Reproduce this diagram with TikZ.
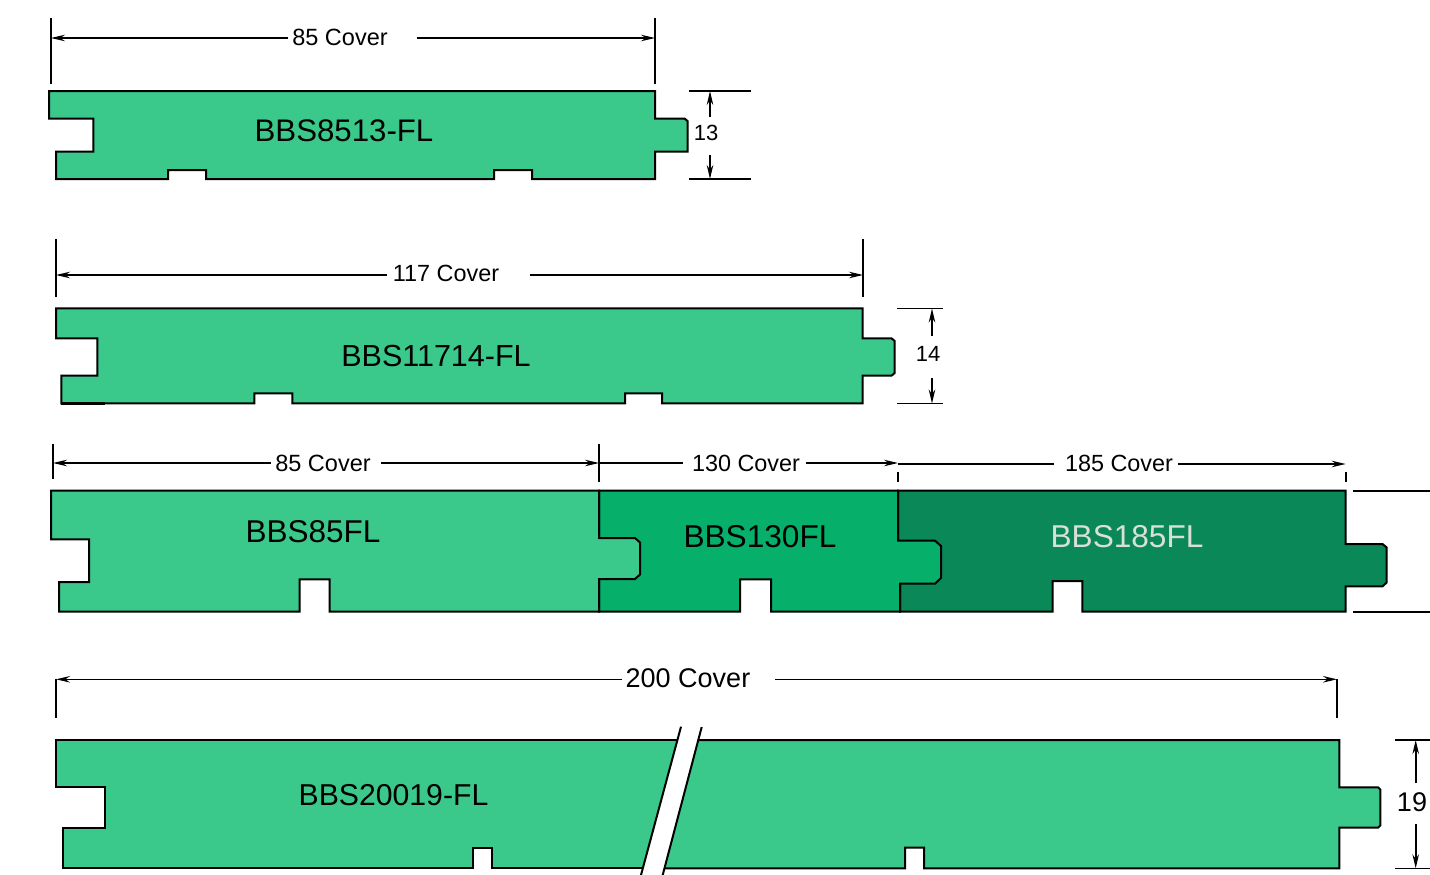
\documentclass[tikz,border=0pt]{standalone}
\usepackage{fontspec}
\setmainfont{Liberation Sans}
\usetikzlibrary{arrows.meta}
\definecolor{lightg}{HTML}{3BC98B}
\definecolor{midg}{HTML}{06B06A}
\definecolor{darkg}{HTML}{0B8858}
\newcommand{\fs}[1]{\fontsize{#1}{#1}\selectfont}
\tikzset{
  board/.style={draw=black,line width=2pt,line join=miter},
  dimline/.style={draw=black,line width=1.6pt,-{Stealth[length=14pt,width=6.5pt]}},
  extline/.style={draw=black,line width=1.6pt},
  txt/.style={inner sep=0pt,outer sep=0pt,text=black,anchor=center},
}
\begin{document}
\begin{tikzpicture}[x=1pt,y=-1pt]
\useasboundingbox (0,0) rectangle (1430,875);
% Board 1
\draw[board,fill=lightg] (49,91) -- (655,91) -- (655,118.5) -- (684.5,118.5) -- (687.5,121) -- (687.5,151.5) -- (655,151.5) -- (655,179) -- (532,179) -- (532,170) -- (494,170) -- (494,179) -- (206,179) -- (206,170) -- (168,170) -- (168,179) -- (56,179) -- (56,151.5) -- (93.3,151.5) -- (93.3,118.5) -- (49,118.5) -- cycle;
\node[txt] (n1) at (344,131) {\fs{31.2}BBS8513-FL};
\coordinate (e1a) at (51,18); \coordinate (e1b) at (51,84);
\coordinate (e1c) at (655,18); \coordinate (e1d) at (655,84);
\draw[extline] (e1a) -- (e1b);
\draw[extline] (e1c) -- (e1d);
\node[txt] (d1) at (340,37.5) {\fs{23.5}85 Cover};
\coordinate (a1l) at (51,38); \coordinate (a1r) at (655,38);
\coordinate (b1l) at (288,38); \coordinate (b1r) at (417,38);
\draw[dimline] (b1l) -- (a1l);
\draw[dimline] (b1r) -- (a1r);
\coordinate (h1a) at (689,91); \coordinate (h1b) at (750.5,91);
\coordinate (h1c) at (689,179); \coordinate (h1d) at (750.5,179);
\draw[extline] (h1a) -- (h1b);
\draw[extline] (h1c) -- (h1d);
\coordinate (v1a) at (710,91); \coordinate (v1b) at (710,116.7);
\coordinate (v1c) at (710,179); \coordinate (v1d) at (710,155);
\draw[dimline] (v1b) -- (v1a);
\draw[dimline] (v1d) -- (v1c);
\node[txt] (d13) at (706,133) {\fs{22}13};
% Board 2
\draw[board,fill=lightg] (56,308.3) -- (862.7,308.3) -- (862.7,338.3) -- (891.5,338.3) -- (894.7,341) -- (894.7,373) -- (891.5,375.7) -- (862.7,375.7) -- (862.7,403.3) -- (662,403.3) -- (662,393.3) -- (625,393.3) -- (625,403.3) -- (292.3,403.3) -- (292.3,393.3) -- (254.3,393.3) -- (254.3,403.3) -- (61.3,403.3) -- (61.3,375.7) -- (97.3,375.7) -- (97.3,338.3) -- (56,338.3) -- cycle;
\coordinate (t2a) at (61.3,403.3); \coordinate (t2b) at (105,403.3);
\draw[line width=2.6pt] (t2a) -- (t2b);
\node[txt] (n2) at (436,356) {\fs{30.5}BBS11714-FL};
\coordinate (e2a) at (56,239); \coordinate (e2b) at (56,297);
\coordinate (e2c) at (863,239); \coordinate (e2d) at (863,297);
\draw[extline] (e2a) -- (e2b);
\draw[extline] (e2c) -- (e2d);
\node[txt] (d2) at (446,273.5) {\fs{23.4}117 Cover};
\coordinate (a2l) at (56,275); \coordinate (a2r) at (863,275);
\coordinate (b2l) at (387,275); \coordinate (b2r) at (530,275);
\draw[dimline] (b2l) -- (a2l);
\draw[dimline] (b2r) -- (a2r);
\coordinate (h2a) at (897,308.5); \coordinate (h2b) at (943,308.5);
\coordinate (h2c) at (897,403.5); \coordinate (h2d) at (943,403.5);
\draw[extline] (h2a) -- (h2b);
\draw[extline] (h2c) -- (h2d);
\coordinate (v2a) at (932,308.5); \coordinate (v2b) at (932,336);
\coordinate (v2c) at (932,403.5); \coordinate (v2d) at (932,378);
\draw[dimline] (v2b) -- (v2a);
\draw[dimline] (v2d) -- (v2c);
\node[txt] (d14) at (928,354) {\fs{22}14};
% Board 3 row: 185, 130, 85
\draw[board,fill=darkg] (898,490.7) -- (1345.7,490.7) -- (1345.7,544) -- (1382.5,544) -- (1386.7,547.5) -- (1386.7,582.5) -- (1382.5,586.3) -- (1345.7,586.3) -- (1345.7,611.7) -- (1082.3,611.7) -- (1082.3,581) -- (1052.7,581) -- (1052.7,611.7) -- (900,611.7) -- (900,584) -- (898,540.7) -- cycle;
\draw[board,fill=midg] (599,490.7) -- (898,490.7) -- (898,540.7) -- (935,540.7) -- (941,546) -- (941,578) -- (935,583.7) -- (900,583.7) -- (900,611.7) -- (771,611.7) -- (771,579.3) -- (740,579.3) -- (740,611.7) -- (599,611.7) -- cycle;
\draw[board,fill=lightg] (51,490.7) -- (599,490.7) -- (599,538) -- (635,538) -- (640,542.5) -- (640,574.5) -- (635,579) -- (599,579) -- (599,611.7) -- (329.7,611.7) -- (329.7,579.3) -- (299.7,579.3) -- (299.7,611.7) -- (59,611.7) -- (59,582) -- (89,582) -- (89,539.3) -- (51,539.3) -- cycle;
\node[txt] (n3) at (313,532) {\fs{31.5}BBS85FL};
\node[txt] (n4) at (760,537) {\fs{31.6}BBS130FL};
\node[txt,text={rgb,255:red,217;green,224;blue,219}] (n5) at (1127,537) {\fs{31.6}BBS185FL};
\coordinate (e3a) at (53,444); \coordinate (e3b) at (53,479);
\coordinate (e3c) at (599,444); \coordinate (e3d) at (599,482);
\coordinate (e3e) at (898,472); \coordinate (e3f) at (898,482);
\coordinate (e3g) at (1346,472); \coordinate (e3h) at (1346,482);
\draw[extline] (e3a) -- (e3b);
\draw[extline] (e3c) -- (e3d);
\draw[extline] (e3e) -- (e3f);
\draw[extline] (e3g) -- (e3h);
\node[txt] (d85) at (323,463) {\fs{23.5}85 Cover};
\node[txt] (d130) at (746,463) {\fs{23.4}130 Cover};
\node[txt] (d185) at (1119,463) {\fs{23.4}185 Cover};
\coordinate (a3l) at (53,463); \coordinate (b3l) at (271,463);
\coordinate (b3r) at (381,463); \coordinate (a3r) at (599,463);
\coordinate (b4l) at (682.5,463); \coordinate (b4r) at (805.7,463); \coordinate (a4r) at (898,463);
\coordinate (a5l) at (898,464); \coordinate (b5l) at (1054,464); \coordinate (b5r) at (1178,464); \coordinate (a5r) at (1345.7,464);
\draw[dimline] (b3l) -- (a3l);
\draw[dimline] (b3r) -- (a3r);
\draw[extline] (a3r) -- (b4l);
\draw[dimline] (b4r) -- (a4r);
\draw[extline] (a5l) -- (b5l);
\draw[dimline] (b5r) -- (a5r);
\coordinate (h3a) at (1353,490.7); \coordinate (h3b) at (1430,490.7);
\coordinate (h3c) at (1353,611.7); \coordinate (h3d) at (1430,611.7);
\draw[extline] (h3a) -- (h3b);
\draw[extline] (h3c) -- (h3d);
% Board 200
\fill[lightg] (677.4,740) -- (56,740) -- (56,787.3) -- (104.7,787.3) -- (104.7,827.7) -- (63.3,827.7) -- (63.3,868.3) -- (473.3,868.3) -- (473.3,847.7) -- (492.3,847.7) -- (492.3,868.3) -- (642.8,868.3) -- cycle;
\fill[lightg] (698.3,740) -- (1339.3,740) -- (1339.3,787.3) -- (1378,787.3) -- (1380.3,789.5) -- (1380.3,825.5) -- (1378,827.7) -- (1339.3,827.7) -- (1339.3,868.3) -- (924,868.3) -- (924,847.7) -- (905,847.7) -- (905,868.3) -- (664.5,868.3) -- cycle;
\draw[board] (677.4,740) -- (56,740) -- (56,787.3) -- (104.7,787.3) -- (104.7,827.7) -- (63.3,827.7) -- (63.3,868.3) -- (473.3,868.3) -- (473.3,847.7) -- (492.3,847.7) -- (492.3,868.3) -- (642.8,868.3);
\draw[board] (698.3,740) -- (1339.3,740) -- (1339.3,787.3) -- (1378,787.3) -- (1380.3,789.5) -- (1380.3,825.5) -- (1378,827.7) -- (1339.3,827.7) -- (1339.3,868.3) -- (924,868.3) -- (924,847.7) -- (905,847.7) -- (905,868.3) -- (664.5,868.3);
\coordinate (s1a) at (681,726.7); \coordinate (s1b) at (641,875);
\coordinate (s2a) at (701.7,727); \coordinate (s2b) at (662.7,875);
\draw[board] (s1a) -- (s1b);
\draw[board] (s2a) -- (s2b);
\node[txt] (n6) at (393.5,795) {\fs{30.2}BBS20019-FL};
\coordinate (e6a) at (56,679.3); \coordinate (e6b) at (56,718);
\coordinate (e6c) at (1337,679.3); \coordinate (e6d) at (1337,718);
\draw[extline] (e6a) -- (e6b);
\draw[extline] (e6c) -- (e6d);
\node[txt] (d200) at (688,678.5) {\fs{27}200 Cover};
\coordinate (b6l) at (622,679.3); \coordinate (b6r) at (775,679.3);
\draw[dimline] (b6l) -- (e6a);
\draw[dimline] (b6r) -- (e6c);
\coordinate (h6a) at (1395,740); \coordinate (h6b) at (1430,740);
\coordinate (h6c) at (1395,868.3); \coordinate (h6d) at (1430,868.3);
\draw[extline] (h6a) -- (h6b);
\draw[extline] (h6c) -- (h6d);
\coordinate (v6a) at (1415.7,740); \coordinate (v6b) at (1415.7,783);
\coordinate (v6c) at (1415.7,868.3); \coordinate (v6d) at (1415.7,824);
\draw[dimline] (v6b) -- (v6a);
\draw[dimline] (v6d) -- (v6c);
\node[txt] (d19) at (1412,802) {\fs{27}19};
\end{tikzpicture}
\end{document}
